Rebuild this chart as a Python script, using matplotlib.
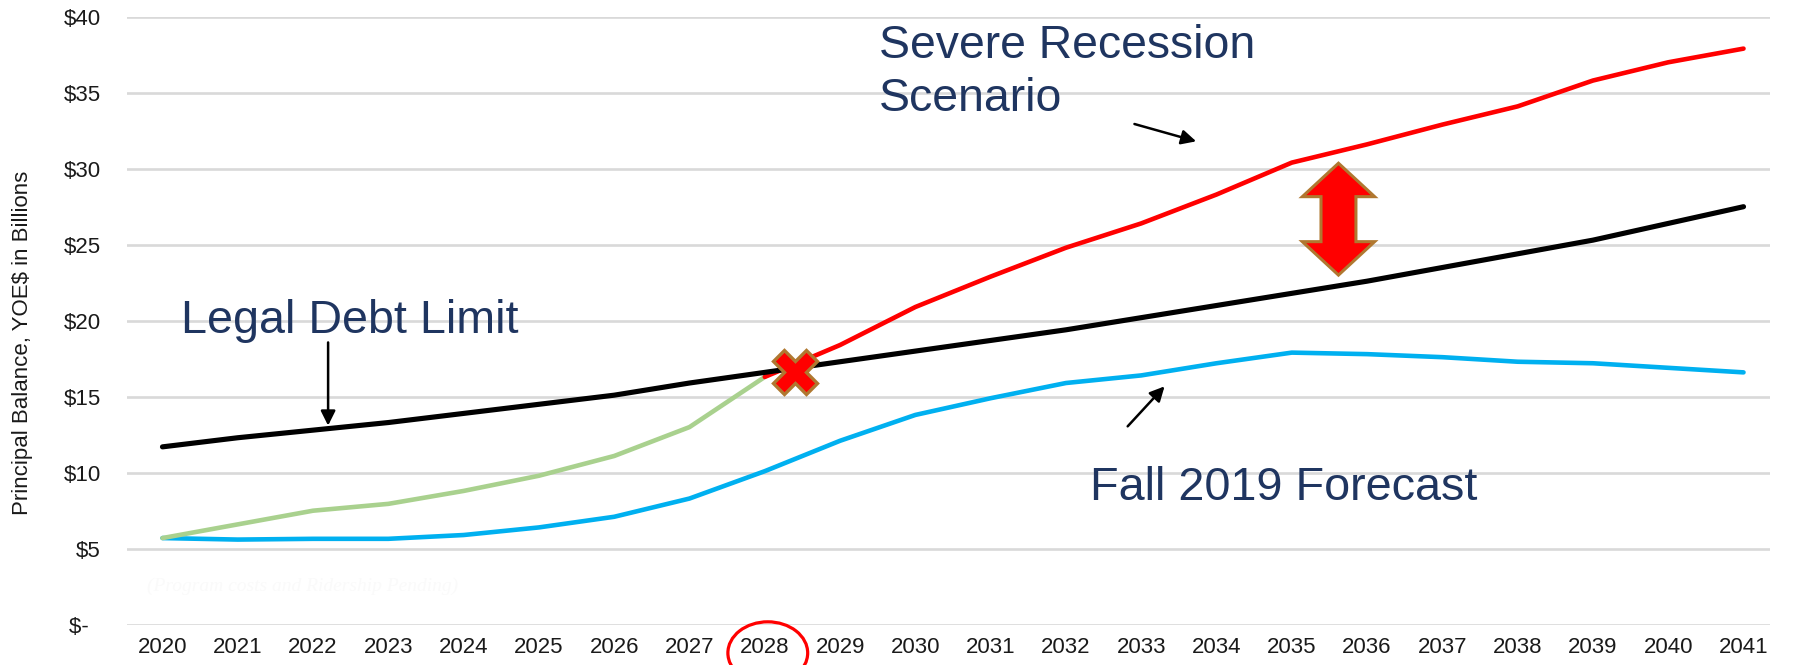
import numpy as np
import matplotlib
matplotlib.use('Agg')
import matplotlib.pyplot as plt
from matplotlib.patches import Polygon, Ellipse

plt.rcParams['font.family'] = ['Liberation Sans', 'DejaVu Sans']

years = list(range(2020, 2042))

# Legal debt limit (black)
debt_limit = [11.7, 12.3, 12.8, 13.3, 13.9, 14.5, 15.1, 15.9, 16.6, 17.3, 18.0,
              18.7, 19.4, 20.2, 21.0, 21.8, 22.6, 23.5, 24.4, 25.3, 26.4, 27.5]

# Fall 2019 forecast (blue)
forecast = [5.7, 5.6, 5.65, 5.65, 5.9, 6.4, 7.1, 8.3, 10.1, 12.1, 13.8,
            14.9, 15.9, 16.4, 17.2, 17.9, 17.8, 17.6, 17.3, 17.2, 16.9, 16.6]

# Severe recession scenario: green up to 2028, red afterwards
recession = [5.7, 6.6, 7.5, 7.95, 8.8, 9.8, 11.1, 13.0, 16.3, 18.4, 20.9,
             22.9, 24.8, 26.4, 28.3, 30.4, 31.6, 32.9, 34.1, 35.8, 37.0, 37.9]
split_year = 2028

y_ticks = [0, 5, 10, 15, 20, 25, 30, 35, 40]
y_tick_labels = ['$-  ', '$5', '$10', '$15', '$20', '$25', '$30', '$35', '$40']

# crossing marker and gap arrow
cross_year, cross_value = 2028.4, 16.6
gap_year, gap_top, gap_bottom = 2035.62, 30.36, 23.0

navy = '#1F3560'

fig = plt.figure(figsize=(17.95, 6.65), dpi=100)
ax = fig.add_axes([0.0708, 0.0606, 0.9152, 0.9143])

yrs = np.array(years)
rec = np.array(recession)
early = yrs <= split_year
late = yrs >= split_year

ax.plot(yrs, forecast, color='#00B0F0', lw=3.3, solid_capstyle='round', zorder=3)
ax.plot(yrs[early], rec[early], color='#A9D18E', lw=3.3, solid_capstyle='round', zorder=4)
ax.plot(yrs, debt_limit, color='black', lw=3.7, solid_capstyle='round', zorder=5)
ax.plot(yrs[late], rec[late], color='#FF0000', lw=3.3, solid_capstyle='round', zorder=4)

ax.plot(cross_year, cross_value, marker='X', markersize=31, markerfacecolor='#FF0000',
        markeredgecolor='#B07830', markeredgewidth=2.4, zorder=6)

# double-headed gap arrow
hw, sw, hl = 0.48, 0.232, 2.2
cx = gap_year
pts = [(cx, gap_top), (cx + hw, gap_top - hl), (cx + sw, gap_top - hl),
       (cx + sw, gap_bottom + hl), (cx + hw, gap_bottom + hl), (cx, gap_bottom),
       (cx - hw, gap_bottom + hl), (cx - sw, gap_bottom + hl),
       (cx - sw, gap_top - hl), (cx - hw, gap_top - hl)]
ax.add_patch(Polygon(pts, closed=True, facecolor='#FF0000', edgecolor='#B07830',
                     lw=2.2, joinstyle='miter', zorder=6))

ax.set_xlim(2019.53, 2041.35)
ax.set_ylim(0, 40)
ax.set_xticks(years)
ax.set_xticklabels([str(y) for y in years])
ax.set_yticks(y_ticks)
ax.set_yticklabels(y_tick_labels)
ax.tick_params(axis='both', length=0, labelsize=16, colors='#1a1a1a')
ax.tick_params(axis='y', pad=19)
ax.tick_params(axis='x', pad=9)
ax.grid(axis='y', color='#D9D9D9', lw=1.9, zorder=0)
ax.set_axisbelow(True)
for s in ax.spines.values():
    s.set_visible(False)

fig.text(23 / 1795, 0.484, 'Principal Balance, YOE$ in Billions', rotation=90,
         ha='center', va='center', fontsize=16, color='#1a1a1a')

# annotations
ax.text(2029.52, 39.5, 'Severe Recession\nScenario', fontsize=33.4, color=navy,
        ha='left', va='top', linespacing=1.27)
ax.text(2020.24, 19.2, 'Legal Debt Limit', fontsize=33.6, color=navy,
        ha='left', va='baseline')
ax.text(2032.32, 8.18, 'Fall 2019 Forecast', fontsize=33.7, color=navy,
        ha='left', va='baseline')

arrow_kw = dict(arrowstyle='-|>', color='black', lw=1.8, mutation_scale=22,
                shrinkA=0, shrinkB=0)
ax.annotate('', xy=(2022.2, 13.1), xytext=(2022.2, 18.57), arrowprops=arrow_kw)
ax.annotate('', xy=(2033.73, 31.8), xytext=(2032.91, 32.94), arrowprops=arrow_kw)
ax.annotate('', xy=(2033.31, 15.68), xytext=(2032.82, 13.05), arrowprops=arrow_kw)

# faint watermark
ax.text(2019.8, 2.5, '(Program costs and Ridership Pending)', fontsize=14,
        style='italic', family='Liberation Serif', color='#FAFAFA', va='center')

# red circle around 2028 label
ax.add_patch(Ellipse((split_year + 0.04, -1.86), 1.06, 4.1, fill=False,
                     edgecolor='#FF0000', lw=2.3, clip_on=False, zorder=7))

fig.savefig('out.png', dpi=100)
